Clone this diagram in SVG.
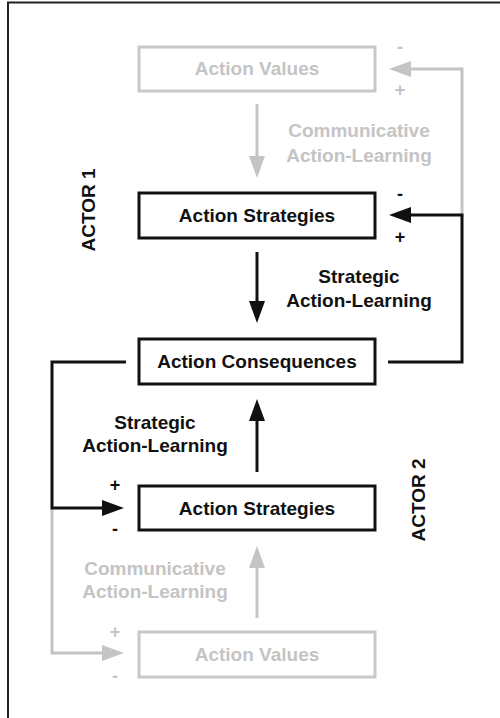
<svg xmlns="http://www.w3.org/2000/svg" width="500" height="718" viewBox="0 0 500 718">
  <defs>
    <style>
      text { font-family: "Liberation Sans", Arial, sans-serif; font-weight: bold; font-size: 19px; text-anchor: middle; }
      .dark { fill: #111111; }
      .light { fill: #c4c4c4; }
      .box-dark { fill: #ffffff; stroke: #111111; stroke-width: 3; }
      .box-light { fill: #ffffff; stroke: #c8c8c8; stroke-width: 3; }
      .wire-dark { fill: none; stroke: #111111; stroke-width: 3; }
      .wire-light { fill: none; stroke: #c4c4c4; stroke-width: 3; }
      .sign { font-size: 18px; }
    </style>
    <marker id="head-dark" viewBox="0 0 22 16" refX="1" refY="8" markerWidth="22" markerHeight="16" markerUnits="userSpaceOnUse" orient="auto">
      <path d="M0,0 L22,8 L0,16 z" fill="#111111"/>
    </marker>
    <marker id="head-light" viewBox="0 0 22 16" refX="1" refY="8" markerWidth="22" markerHeight="16" markerUnits="userSpaceOnUse" orient="auto">
      <path d="M0,0 L22,8 L0,16 z" fill="#c4c4c4"/>
    </marker>
  </defs>

  <rect width="500" height="718" fill="#ffffff"/>
  <!-- frame (top and left edges) -->
  <path d="M8,720 V2.5 H502" fill="none" stroke="#222222" stroke-width="2"/>

  <!-- actor labels -->
  <text class="dark" transform="translate(95,210) rotate(-90)">ACTOR 1</text>
  <text class="dark" transform="translate(425,500) rotate(-90)">ACTOR 2</text>

  <g id="connectors">
    <!-- communicative loops (grey) -->
    <path class="wire-light" d="M462,217 V69 H410" marker-end="url(#head-light)"/>
    <path class="wire-light" d="M52,508 V653 H103" marker-end="url(#head-light)"/>
    <line class="wire-light" x1="257" y1="104" x2="257" y2="157" marker-end="url(#head-light)"/>
    <line class="wire-light" x1="257" y1="618" x2="257" y2="567" marker-end="url(#head-light)"/>
    <!-- strategic loops (black) -->
    <path class="wire-dark" d="M388,362 H462 V215 H410" marker-end="url(#head-dark)"/>
    <path class="wire-dark" d="M126,362 H52 V508 H103" marker-end="url(#head-dark)"/>
    <line class="wire-dark" x1="257" y1="252" x2="257" y2="302" marker-end="url(#head-dark)"/>
    <line class="wire-dark" x1="257" y1="472" x2="257" y2="420" marker-end="url(#head-dark)"/>

    <!-- edge labels -->
    <text class="light" x="359" y="137">Communicative</text>
    <text class="light" x="359" y="162">Action-Learning</text>
    <text class="dark" x="359" y="283">Strategic</text>
    <text class="dark" x="359" y="307">Action-Learning</text>
    <text class="dark" x="155" y="429">Strategic</text>
    <text class="dark" x="155" y="452">Action-Learning</text>
    <text class="light" x="155" y="575">Communicative</text>
    <text class="light" x="155" y="598">Action-Learning</text>

    <!-- polarity signs -->
    <text class="light sign" x="400" y="53">-</text>
    <text class="light sign" x="400" y="96">+</text>
    <text class="dark sign" x="400" y="200">-</text>
    <text class="dark sign" x="400" y="243">+</text>
    <text class="dark sign" x="115" y="491">+</text>
    <text class="dark sign" x="115" y="535">-</text>
    <text class="light sign" x="115" y="638">+</text>
    <text class="light sign" x="115" y="682">-</text>
  </g>

  <g id="values-1">
    <rect class="box-light" x="139" y="47" width="236" height="44"/>
    <text class="light" x="257" y="75">Action Values</text>
  </g>
  <g id="strategies-1">
    <rect class="box-dark" x="139" y="193" width="236" height="45"/>
    <text class="dark" x="257" y="222">Action Strategies</text>
  </g>
  <g id="consequences">
    <rect class="box-dark" x="139" y="339" width="236" height="45"/>
    <text class="dark" x="257" y="368">Action Consequences</text>
  </g>
  <g id="strategies-2">
    <rect class="box-dark" x="139" y="486" width="236" height="44"/>
    <text class="dark" x="257" y="515">Action Strategies</text>
  </g>
  <g id="values-2">
    <rect class="box-light" x="139" y="632" width="236" height="45"/>
    <text class="light" x="257" y="661">Action Values</text>
  </g>
</svg>
